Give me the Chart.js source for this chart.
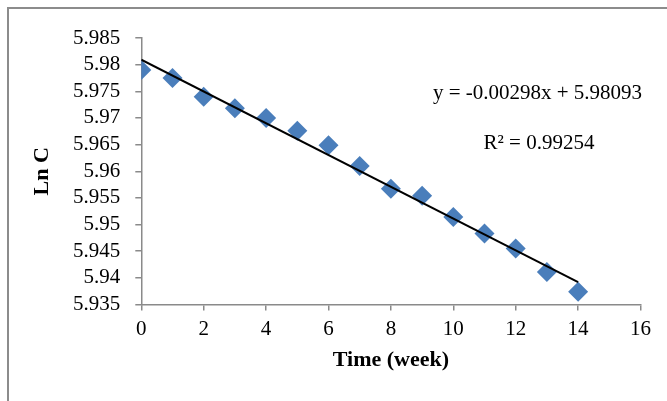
<!DOCTYPE html>
<html>
<head>
<meta charset="utf-8">
<script src="https://cdn.jsdelivr.net/npm/chart.js@4/dist/chart.umd.min.js"></script>
<style>
  html, body { margin: 0; padding: 0; background: #ffffff; }
  #wrap { position: relative; width: 667px; height: 401px; }
</style>
</head>
<body>
<div id="wrap"><canvas id="c" width="667" height="401"></canvas></div>
<script>
// ---- data ----
const weeks = [0, 1, 2, 3, 4, 5, 6, 7, 8, 9, 10, 11, 12, 13, 14];
const lnC = [5.9790, 5.9775, 5.9740, 5.9718, 5.9700, 5.9676, 5.9649, 5.9610,
             5.9567, 5.9554, 5.9514, 5.9483, 5.9455, 5.9411, 5.9374];
const trendX = [0, 14];
const trendY = [5.98093, 5.93921];
const xTicks = [0, 2, 4, 6, 8, 10, 12, 14, 16];
const yTickLabels = ['5.935', '5.94', '5.945', '5.95', '5.955', '5.96', '5.965', '5.97', '5.975', '5.98', '5.985'];
const equationText = 'y = -0.00298x + 5.98093';
const r2Text = 'R² = 0.99254';
const xTitle = 'Time (week)';
const yTitle = 'Ln C';

const FONT = "'Liberation Serif', 'Times New Roman', serif";
const AXIS_COLOR = '#8a8a8a';

const points = weeks.map((w, i) => ({ x: w, y: lnC[i] }));
const trend = trendX.map((x, i) => ({ x: x, y: trendY[i] }));

const extras = {
  id: 'extras',
  afterDraw(chart) {
    const ctx = chart.ctx;
    ctx.save();
    // outer frame
    ctx.strokeStyle = '#8c8c8c';
    ctx.lineWidth = 2;
    ctx.strokeRect(8, 8, 700, 500);
    // trendline equation
    ctx.fillStyle = '#000';
    ctx.font = "21px " + FONT;
    ctx.textAlign = 'center';
    ctx.textBaseline = 'middle';
    ctx.fillText(equationText, 537.5, 93);
    ctx.fillText(r2Text, 539, 143);
    ctx.restore();
  }
};

new Chart(document.getElementById('c'), {
  type: 'scatter',
  data: {
    datasets: [
      {
        type: 'line',
        data: trend,
        borderColor: '#000000',
        borderWidth: 2,
        pointRadius: 0,
        fill: false,
        tension: 0
      },
      {
        data: points,
        pointStyle: 'rectRot',
        pointRadius: 10,
        pointBackgroundColor: '#4a7ebb',
        pointBorderColor: '#4a7ebb',
        pointBorderWidth: 0
      }
    ]
  },
  options: {
    responsive: false,
    animation: false,
    devicePixelRatio: 1,
    layout: { padding: { left: 28.8, top: 38, right: 26.5, bottom: 27.8 } },
    plugins: { legend: { display: false }, tooltip: { enabled: false } },
    scales: {
      x: {
        type: 'linear',
        min: 0, max: 16,
        afterBuildTicks(scale) { scale.ticks = xTicks.map(v => ({ value: v })); },
        afterFit(scale) { scale.height = 68.7; },
        ticks: { color: '#000', font: { family: FONT, size: 21 }, padding: 6, maxRotation: 0, autoSkip: false },
        grid: { display: true, drawOnChartArea: false, drawTicks: true, tickLength: 6, color: AXIS_COLOR, lineWidth: 1.5 },
        border: { display: true, color: AXIS_COLOR, width: 1.5 },
        title: { display: true, text: xTitle, color: '#000', font: { family: FONT, size: 22, weight: 'bold' }, padding: { top: 0, bottom: 0 } }
      },
      y: {
        type: 'linear',
        min: 5.935, max: 5.985,
        afterBuildTicks(scale) { scale.ticks = yTickLabels.map(v => ({ value: parseFloat(v) })); },
        afterFit(scale) { scale.width = 112.5; },
        ticks: {
          color: '#000', font: { family: FONT, size: 21 }, padding: 15, autoSkip: false,
          callback: (v, i) => yTickLabels[i]
        },
        grid: { display: true, drawOnChartArea: false, drawTicks: true, tickLength: 6, color: AXIS_COLOR, lineWidth: 1.5 },
        border: { display: true, color: AXIS_COLOR, width: 1.5 },
        title: { display: true, text: yTitle, color: '#000', font: { family: FONT, size: 22, weight: 'bold' }, padding: { top: 0, bottom: 0 } }
      }
    }
  },
  plugins: [extras]
});
</script>
</body>
</html>
